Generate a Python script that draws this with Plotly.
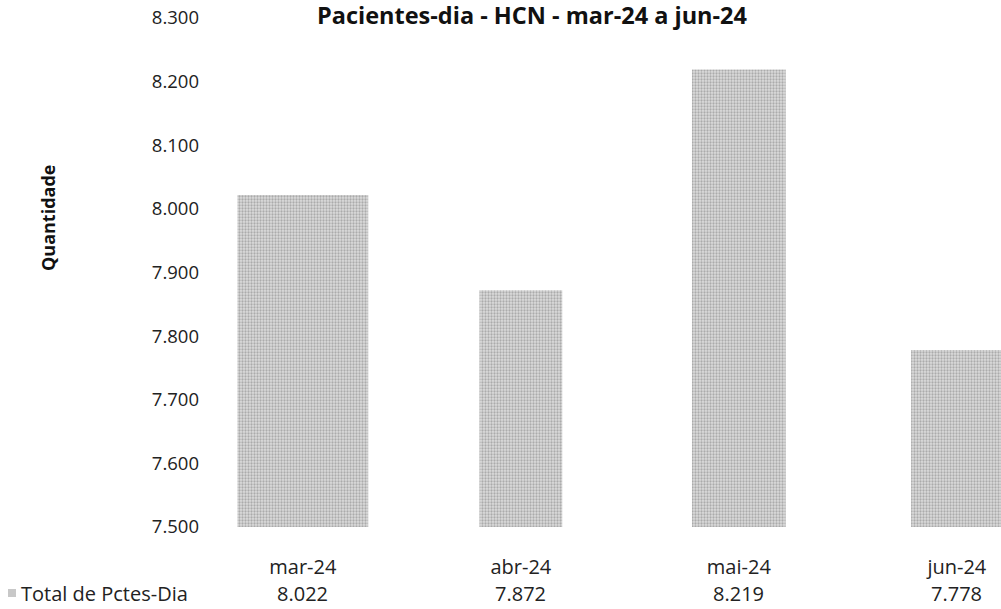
import plotly.graph_objects as go

months = ["mar-24", "abr-24", "mai-24", "jun-24"]
values = [8022, 7872, 8219, 7778]
series_name = "Total de Pctes-Dia"
title = "Pacientes-dia - HCN - mar-24 a jun-24"
y_title = "Quantidade"

FONT = "Open Sans"
W, H = 1001, 609
STEP = 218          # pixels per category
X0 = -0.38          # left end of x range
L, R, T, B = 302 - int(-X0 * STEP), 0, 18, 82
PW, PH = W - L - R, H - T - B

def px_x(px):
    return (px - L) / PW

def px_y(py):
    return (H - B - py) / PH

def fmt(v):
    return f"{v:,}".replace(",", ".")

fig = go.Figure()
fig.add_trace(go.Bar(
    x=months, y=values, name=series_name, width=[0.6, 0.38, 0.43, 0.42],
    marker=dict(color="#d6d6d6", line=dict(width=0),
                pattern=dict(shape=".", fgcolor="#7a7a7a", bgcolor="#dcdcdc", size=3, solidity=0.45)),
    showlegend=False, hoverinfo="x+y",
))

# data-table row values
for m, v in zip(months, values):
    fig.add_annotation(x=m, y=px_y(593), xref="x", yref="paper", text=fmt(v),
                       showarrow=False, font=dict(size=20, color="#222", family=FONT),
                       yanchor="middle")

# data-table legend key + label
fig.add_shape(type="rect", xref="paper", yref="paper",
              x0=px_x(8), x1=px_x(16), y0=px_y(597), y1=px_y(589),
              fillcolor="#c8c8c8", line=dict(width=0))
fig.add_annotation(x=px_x(19), y=px_y(593), xref="paper", yref="paper", text=series_name,
                   showarrow=False, xanchor="left", yanchor="middle",
                   font=dict(size=20, color="#222", family=FONT))

# title
fig.add_annotation(x=px_x(532), y=px_y(15), xref="paper", yref="paper", text=f"<b>{title}</b>",
                   showarrow=False, xanchor="center", yanchor="middle",
                   font=dict(size=23.5, color="#111", family=FONT))

# y-axis title
fig.add_annotation(x=px_x(48), y=px_y(218), xref="paper", yref="paper", text=f"<b>{y_title}</b>",
                   showarrow=False, textangle=-90, xanchor="center", yanchor="middle",
                   font=dict(size=18, color="#111", family=FONT))

fig.update_layout(
    width=W, height=H,
    margin=dict(l=L, r=R, t=T, b=B, autoexpand=False),
    paper_bgcolor="white", plot_bgcolor="white",
    separators=",.",
    font=dict(family=FONT, size=19, color="#222"),
    xaxis=dict(range=[X0, X0 + PW / STEP], showline=False, ticks="", showgrid=False,
               ticklabelstandoff=26, tickfont=dict(size=20)),
    yaxis=dict(range=[7500, 8300], dtick=100, tickformat=",.0f", showgrid=False,
               showline=False, zeroline=False, ticks="", ticklabelstandoff=20,
               tickfont=dict(size=18.5)),
)

fig.write_html("out.html", config={"displayModeBar": False},
               post_script="document.body.style.margin='0';")
